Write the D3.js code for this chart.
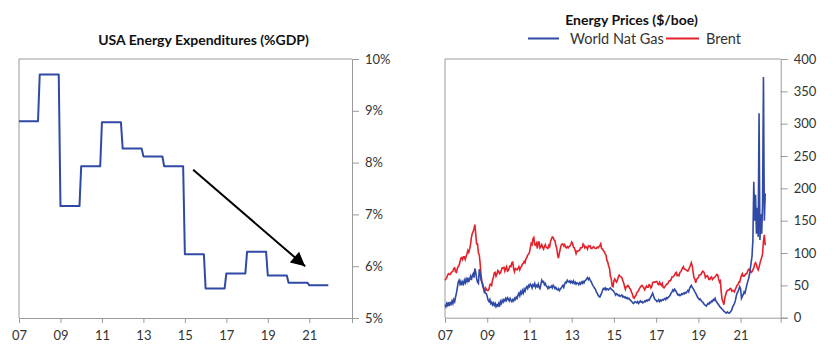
<!DOCTYPE html>
<html><head><meta charset="utf-8">
<script src="https://cdn.jsdelivr.net/npm/d3@7"></script>
<style>
body{margin:0;background:#fff;}
text{font-family:Lato,"Open Sans",sans-serif;}
</style></head>
<body><svg id="c" width="840" height="357"></svg>
<script>
// ---------- DATA ----------
// Left: USA energy expenditures, % of GDP, annual
const expYears = [2007,2008,2009,2010,2011,2012,2013,2014,2015,2016,2017,2018,2019,2020,2021];
const expValues = [8.80,9.70,7.16,7.93,8.78,8.27,8.12,7.93,6.23,5.57,5.86,6.28,5.82,5.68,5.63];
const expTicksY = [5,6,7,8,9,10];
const yearTicks = [2007,2009,2011,2013,2015,2017,2019,2021];
const arrowFrom = [2015.4, 7.86];
const arrowTo = [2020.8, 6.0];

// Right: energy prices, $/boe, semi-monthly from 2007
const priceStart = 2007;
const priceStepsPerYear = 24;
const brent = [
 58,60,62,66,68,67,67,70,71,72,76,77,71,70,76,79,81,86,92,93,90,94,94,90,
 95,99,104,101,106,113,124,130,133,138,144,128,114,114,100,97,83,66,55,52,44,38,46,44,
 42,42,44,51,52,50,58,62,69,70,64,67,73,72,68,69,73,77,77,78,72,76,79,72,
 73,77,80,79,85,86,76,71,76,75,74,76,79,74,78,79,83,84,87,85,91,93,97,98,
 101,108,115,113,122,124,113,112,115,107,117,117,108,110,113,109,106,110,113,109,108,107,112,110,
 118,122,125,124,120,119,112,107,97,92,100,106,112,114,114,111,113,109,108,110,108,110,111,113,
 117,115,109,108,104,99,103,103,104,104,108,108,109,114,112,108,110,109,106,111,110,111,107,107,
 109,110,108,107,107,109,108,110,111,114,107,106,104,102,99,97,89,86,80,76,64,60,49,48,
 57,60,57,55,58,63,66,64,63,62,58,54,49,44,48,48,50,48,45,44,39,37,31,30,
 33,34,39,40,42,45,47,49,50,48,46,43,46,49,47,47,51,50,46,48,54,55,55,55,
 56,56,52,51,55,52,50,53,47,46,48,50,52,52,55,57,57,59,63,63,64,66,69,70,
 65,66,65,70,71,74,77,79,75,75,74,73,72,74,78,81,85,80,71,62,60,54,59,61,
 62,66,66,67,70,72,71,68,62,64,65,63,59,59,62,63,59,61,62,63,65,67,66,60,
 55,57,40,28,25,20,30,35,40,42,43,43,45,45,41,42,42,40,44,47,50,51,55,55,
 61,65,68,64,64,66,68,68,72,75,75,73,70,71,74,77,83,85,82,77,74,78,84,89,
 93,99,118,128,112
];
const natGas = [
 20,17,22,19,24,18,23,21,26,22,28,25,32,38,46,55,58,52,56,50,55,52,58,54,
 60,56,62,55,60,64,58,65,68,62,76,70,60,55,53,75,68,58,55,48,45,40,38,37,
 33,27,25,28,22,24,20,23,19,22,17,20,18,22,17,25,22,27,24,28,26,30,27,31,
 29,26,30,27,25,28,26,30,28,32,30,35,38,34,40,37,42,38,44,41,46,48,45,50,
 48,52,50,46,51,49,53,47,50,48,52,47,45,52,58,55,56,51,53,49,48,45,48,46,
 47,49,46,50,48,45,47,44,43,45,42,44,46,48,50,47,52,55,54,58,56,55,57,54,
 56,54,57,53,55,52,54,53,51,54,52,55,53,56,54,57,58,60,62,59,61,58,56,53,
 50,48,46,44,40,38,35,33,32,35,38,42,45,44,46,43,45,44,43,45,46,44,43,42,
 40,38,35,37,36,34,35,33,34,35,32,33,31,32,30,31,29,30,28,27,25,24,22,23,
 25,24,23,25,22,24,26,24,25,23,24,26,25,27,26,28,27,30,32,35,38,34,30,28,
 27,25,26,28,25,27,26,28,27,29,30,28,31,30,32,33,35,38,40,43,41,44,42,40,
 37,35,36,34,35,37,36,38,37,39,38,40,42,40,45,48,50,47,45,43,40,38,35,32,
 30,28,29,27,25,24,22,20,19,18,20,22,21,24,23,26,25,28,27,30,26,24,22,20,
 18,16,15,13,12,10,9,8,7,9,8,7,8,10,12,17,19,22,26,33,38,40,44,48,
 45,30,33,36,40,38,44,50,55,60,66,75,85,95,120,210,150,190,130,170,125,316,120,160,
 130,175,372,150,192
];
const priceTicksY = [0,50,100,150,200,250,300,350,400];
const seriesNames = ["World Nat Gas","Brent"];
const seriesColors = ["#3049a4","#e3222c"];

// ---------- DRAW ----------
const svg = d3.select("#c");
const frameColor = "#9a9a9a";
const textColor = "#333";
const fmtYear = d => String(d).slice(2);

function frame(g, x, y, yTicks, yFmt){
  const [x0,x1] = x.range(), [y0,y1] = y.range();
  g.append("line").attr("x1",x0).attr("x2",x0).attr("y1",y0).attr("y2",y1).attr("stroke",frameColor);
  g.append("line").attr("x1",x0).attr("x2",x1).attr("y1",y1).attr("y2",y1).attr("stroke",frameColor);
  const ya = g.append("g").attr("transform",`translate(${x1},0)`)
    .call(d3.axisRight(y).tickValues(yTicks).tickSize(7).tickPadding(6).tickFormat(yFmt));
  const xa = g.append("g").attr("transform",`translate(0,${y0})`)
    .call(d3.axisBottom(x).tickValues(yearTicks).tickSize(5).tickPadding(8).tickFormat(fmtYear));
  [ya,xa].forEach(a=>{
    a.select(".domain").attr("stroke",frameColor);
    a.selectAll(".tick line").attr("stroke",frameColor);
    a.selectAll("text").attr("fill",textColor).style("font-size","13px").style("font-family","Lato");
  });
}

// Left chart
const xL = d3.scaleLinear().domain([2007, 2023.06]).range([19, 352]);
const yL = d3.scaleLinear().domain([5, 10]).range([318, 59]);
const gL = svg.append("g");
frame(gL, xL, yL, expTicksY, d => d + "%");
const expPts = [];
expYears.forEach((yr,i)=>{ expPts.push([yr, expValues[i]]); expPts.push([yr + 11/12, expValues[i]]); });
gL.append("path").datum(expPts)
  .attr("fill","none").attr("stroke",seriesColors[0]).attr("stroke-width",2).attr("stroke-linejoin","round")
  .attr("d", d3.line().x(d=>xL(d[0])).y(d=>yL(d[1])));
svg.append("defs").append("marker").attr("id","ah")
  .attr("viewBox","0 0 10 10").attr("refX",10).attr("refY",5)
  .attr("markerWidth",7.5).attr("markerHeight",7).attr("orient","auto").attr("markerUnits","strokeWidth")
  .append("path").attr("d","M0,0L10,5L0,10Z").attr("fill","#000");
gL.append("line")
  .attr("x1",xL(arrowFrom[0])).attr("y1",yL(arrowFrom[1]))
  .attr("x2",xL(arrowTo[0])).attr("y2",yL(arrowTo[1]))
  .attr("stroke","#000").attr("stroke-width",2).attr("marker-end","url(#ah)");
gL.append("text").attr("x",203.5).attr("y",44.5).attr("text-anchor","middle")
  .style("font-size","14px").style("font-weight","bold").attr("fill","#111")
  .text("USA Energy Expenditures (%GDP)");

// Right chart
const xR = d3.scaleLinear().domain([2007, 2022.9]).range([445, 780.7]);
const yR = d3.scaleLinear().domain([0, 400]).range([317.7, 59]);
const gR = svg.append("g");
frame(gR, xR, yR, priceTicksY, d => d);
const lineR = d3.line().x((d,i)=>xR(priceStart + i/priceStepsPerYear)).y(d=>yR(d));
gR.append("path").datum(brent).attr("fill","none").attr("stroke",seriesColors[1]).attr("stroke-width",1.6).attr("d",lineR);
gR.append("path").datum(natGas).attr("fill","none").attr("stroke",seriesColors[0]).attr("stroke-width",1.6).attr("d",lineR);
gR.append("text").attr("x",631.5).attr("y",25).attr("text-anchor","middle")
  .style("font-size","14px").style("font-weight","bold").attr("fill","#111")
  .text("Energy Prices ($/boe)");
const legX = [[528,559,570],[666,699,706]];
seriesNames.forEach((n,i)=>{
  gR.append("line").attr("x1",legX[i][0]).attr("x2",legX[i][1]).attr("y1",38.5).attr("y2",38.5)
    .attr("stroke",seriesColors[i]).attr("stroke-width",2);
  gR.append("text").attr("x",legX[i][2]).attr("y",43.5).style("font-size","14.5px").attr("fill",textColor).text(n);
});
</script></body></html>
